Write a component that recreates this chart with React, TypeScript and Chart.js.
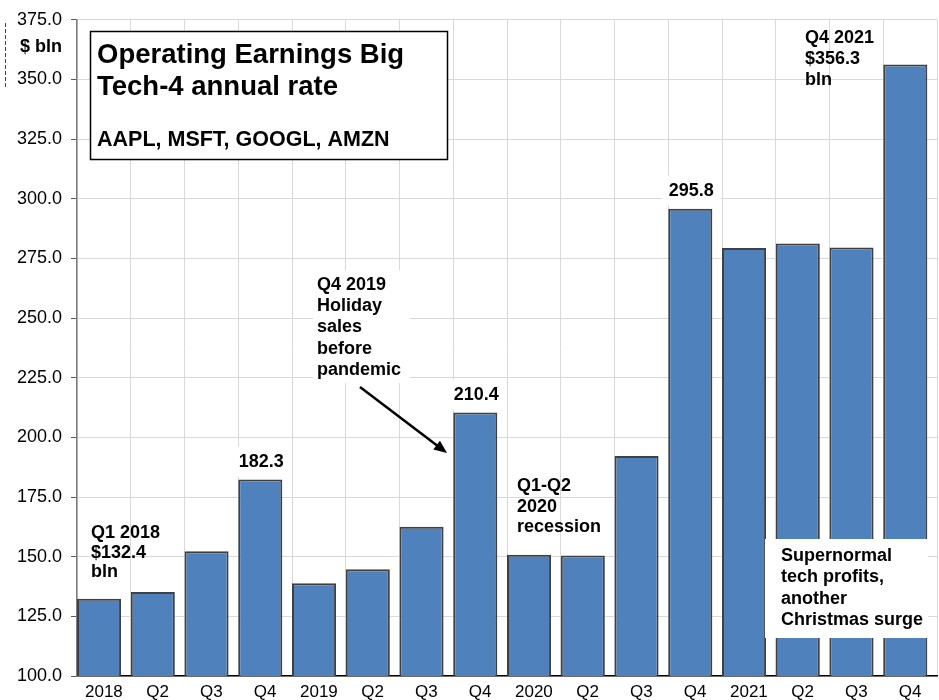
import { useEffect, useRef } from 'react';
import { Chart, registerables } from 'chart.js';

Chart.register(...registerables);

const FONT = '"Liberation Sans", Arial, Helvetica, sans-serif';

const categories = ['2018', 'Q2', 'Q3', 'Q4', '2019', 'Q2', 'Q3', 'Q4', '2020', 'Q2', 'Q3', 'Q4', '2021', 'Q2', 'Q3', 'Q4'];
const earnings = [132.4, 135.2, 152.3, 182.3, 138.9, 144.7, 162.5, 210.4, 150.8, 150.5, 192.2, 295.8, 279.4, 281.2, 279.6, 356.3];
const yMin = 100;
const yMax = 375;
const yStep = 25;
const labelledBars = [3, 7, 11];
const titleLines = ['Operating Earnings Big', 'Tech-4 annual rate'];
const subtitle = 'AAPL, MSFT, GOOGL, AMZN';
const unitLabel = '$ bln';
const noteQ1 = ['Q1 2018', '$132.4', 'bln'];
const noteQ4_2019 = ['Q4 2019', 'Holiday', 'sales', 'before', 'pandemic'];
const noteRecession = ['Q1-Q2', '2020', 'recession'];
const noteQ4_2021 = ['Q4 2021', '$356.3', 'bln'];
const noteSupernormal = ['Supernormal', 'tech profits,', 'another', 'Christmas surge'];

type Note = { lines: string[]; x: number; y: number; lh: number; box?: [number, number, number, number] };

const notes: Note[] = [
  { lines: noteQ1, x: 91, y: 538, lh: 19.5 },
  { lines: noteQ4_2019, x: 317, y: 290, lh: 21.2, box: [313, 270, 97, 113] },
  { lines: noteRecession, x: 517, y: 491, lh: 20.5 },
  { lines: noteQ4_2021, x: 805, y: 43, lh: 20.8 },
  { lines: noteSupernormal, x: 781, y: 561, lh: 21.3, box: [765, 539, 163, 99] },
];

const annotationPlugin = {
  id: 'annotations',
  afterDatasetsDraw(chart: any) {
    const ctx: CanvasRenderingContext2D = chart.ctx;
    const xs = chart.scales.xb;
    const ys = chart.scales.y;
    ctx.save();
    ctx.textBaseline = 'alphabetic';

    // value labels above bars
    ctx.font = `bold 18px ${FONT}`;
    labelledBars.forEach((i) => {
      const text = earnings[i].toFixed(1);
      const cx = xs.getPixelForValue(i) + 1;
      const top = ys.getPixelForValue(earnings[i]);
      const w = ctx.measureText(text).width + 14;
      ctx.fillStyle = '#ffffff';
      ctx.fillRect(cx - w / 2, top - 33, w, 30);
      ctx.fillStyle = '#000000';
      ctx.textAlign = 'center';
      ctx.fillText(text, cx, top - 13);
    });

    // free notes
    ctx.textAlign = 'left';
    notes.forEach((n) => {
      if (n.box) {
        ctx.fillStyle = '#ffffff';
        ctx.fillRect(n.box[0], n.box[1], n.box[2], n.box[3]);
      }
      ctx.fillStyle = '#000000';
      ctx.font = `bold 18px ${FONT}`;
      n.lines.forEach((l, k) => ctx.fillText(l, n.x, n.y + k * n.lh));
    });

    // title box
    ctx.fillStyle = '#ffffff';
    ctx.fillRect(90, 31, 357, 128);
    ctx.strokeStyle = '#000000';
    ctx.lineWidth = 1.5;
    ctx.strokeRect(90.5, 31.5, 357, 128);
    ctx.fillStyle = '#000000';
    ctx.font = `bold 27.5px ${FONT}`;
    ctx.fillText(titleLines[0], 97, 63);
    ctx.fillText(titleLines[1], 97, 94.5);
    ctx.font = `bold 21.5px ${FONT}`;
    ctx.fillText(subtitle, 97, 145.5);

    // unit label
    ctx.font = `bold 18px ${FONT}`;
    ctx.fillText(unitLabel, 20, 51.5);

    // arrow
    const x1 = 360, y1 = 387, x2 = 447, y2 = 453;
    const ang = Math.atan2(y2 - y1, x2 - x1);
    const hl = 13, hw = 5.5;
    ctx.strokeStyle = '#000000';
    ctx.lineWidth = 2.5;
    ctx.beginPath();
    ctx.moveTo(x1, y1);
    ctx.lineTo(x2 - Math.cos(ang) * hl * 0.8, y2 - Math.sin(ang) * hl * 0.8);
    ctx.stroke();
    ctx.beginPath();
    ctx.moveTo(x2, y2);
    ctx.lineTo(x2 - Math.cos(ang) * hl + Math.sin(ang) * hw, y2 - Math.sin(ang) * hl - Math.cos(ang) * hw);
    ctx.lineTo(x2 - Math.cos(ang) * hl - Math.sin(ang) * hw, y2 - Math.sin(ang) * hl + Math.cos(ang) * hw);
    ctx.closePath();
    ctx.fillStyle = '#000000';
    ctx.fill();

    // dashed selection artefact at the left edge
    ctx.strokeStyle = '#444444';
    ctx.lineWidth = 1;
    ctx.setLineDash([4, 2]);
    ctx.beginPath();
    ctx.moveTo(5.5, 23);
    ctx.lineTo(5.5, 88);
    ctx.stroke();
    ctx.restore();
  },
};

export default function App() {
  const ref = useRef<HTMLCanvasElement | null>(null);

  useEffect(() => {
    if (!ref.current) return;
    const chart = new Chart(ref.current, {
      type: 'bar',
      data: {
        labels: categories,
        datasets: [
          {
            data: earnings.map((v, i) => ({ x: i, y: v })),
            xAxisID: 'xb',
            backgroundColor: '#4F81BD',
            borderColor: '#404040',
            borderWidth: 2,
            borderSkipped: false,
            barPercentage: 0.82,
            categoryPercentage: 1,
          },
        ],
      },
      options: {
        responsive: false,
        animation: false,
        layout: { padding: { top: 17, right: 2, left: 0, bottom: 0 } },
        plugins: { legend: { display: false }, tooltip: { enabled: false } },
        scales: {
          x: {
            type: 'category',
            offset: true,
            grid: { offset: true, color: '#d9d9d9', lineWidth: 1, drawTicks: false },
            border: { color: '#000000', width: 1.5 },
            ticks: { color: '#000000', font: { family: FONT, size: 17 }, padding: 6, maxRotation: 0, autoSkip: false },
            afterFit: (s: any) => { s.height = 24; },
          },
          xb: {
            type: 'linear',
            display: false,
            offset: false,
            min: -0.5 + 0.09,
            max: categories.length - 0.5 + 0.09,
            grid: { display: false },
          },
          y: {
            min: yMin,
            max: yMax,
            grid: { color: '#d9d9d9', lineWidth: 1, drawTicks: true, tickLength: 6, tickColor: '#595959' },
            border: { color: '#7f7f7f', width: 1.5 },
            ticks: {
              stepSize: yStep,
              color: '#000000',
              font: { family: FONT, size: 18 },
              padding: 9,
              callback: (v: any) => Number(v).toFixed(1),
            },
            afterFit: (s: any) => { s.width = 77; },
          },
        },
      },
      plugins: [annotationPlugin],
    } as any);
    return () => chart.destroy();
  }, []);

  return (
    <div style={{ position: 'absolute', left: 0, top: 0, width: 939, height: 700, background: '#ffffff' }}>
      <canvas ref={ref} width={939} height={700} style={{ display: 'block' }} />
    </div>
  );
}
